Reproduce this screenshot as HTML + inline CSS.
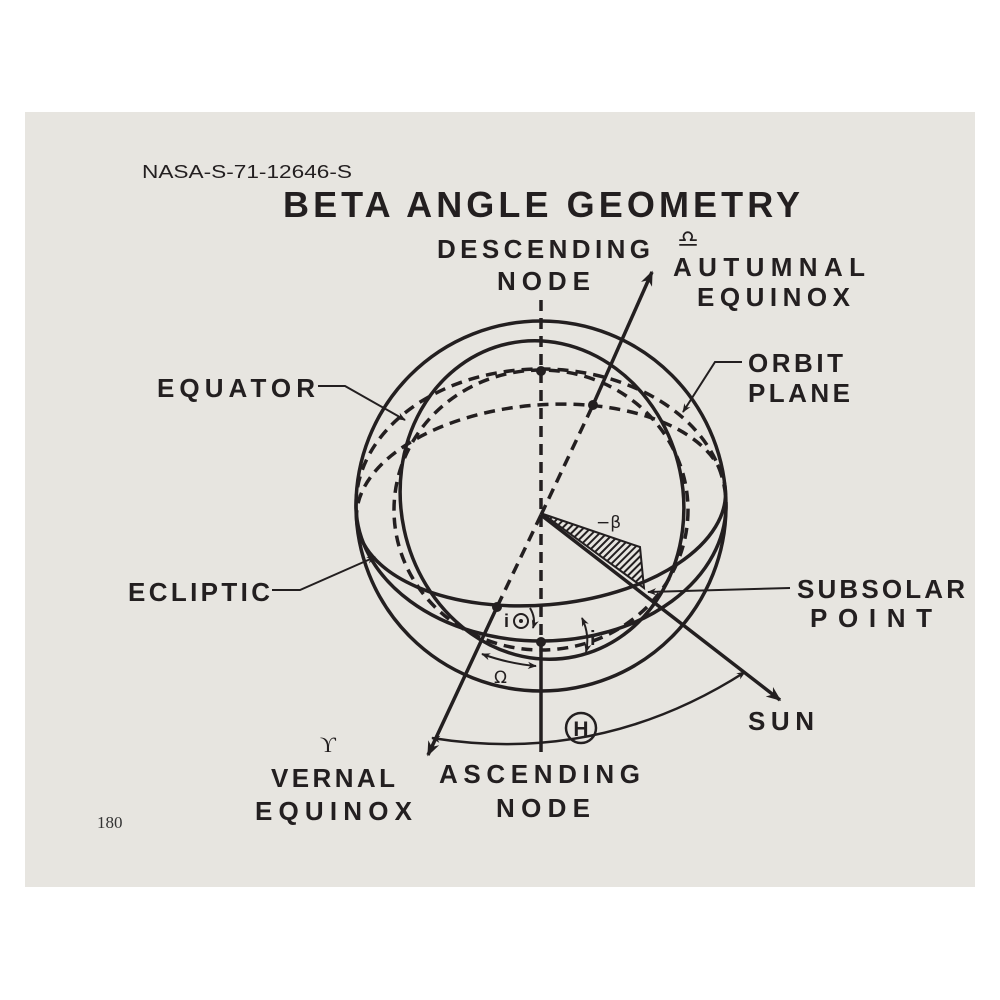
<!DOCTYPE html>
<html><head><meta charset="utf-8"><style>
html,body{margin:0;padding:0;background:#fff;}
svg{display:block}
.l{font-family:"Liberation Sans","DejaVu Sans",sans-serif;font-weight:bold;fill:#231f20;}
</style></head><body>
<svg width="1000" height="1000" viewBox="0 0 1000 1000" xmlns="http://www.w3.org/2000/svg">
<defs>
<marker id="ar" viewBox="0 0 10 10" refX="9" refY="5" markerWidth="9" markerHeight="9" orient="auto-start-reverse" markerUnits="userSpaceOnUse"><path d="M0,1 L10,5 L0,9 L3,5 z" fill="#231f20"/></marker>
<marker id="sa" viewBox="0 0 10 10" refX="9" refY="5" markerWidth="15" markerHeight="15" orient="auto-start-reverse" markerUnits="userSpaceOnUse"><path d="M0,1 L10,5 L0,9 L3,5 z" fill="#231f20"/></marker>
<pattern id="hatch" width="5" height="5" patternUnits="userSpaceOnUse" patternTransform="rotate(45)"><rect width="2" height="5" fill="#231f20"/></pattern>
</defs>
<rect x="25" y="112" width="950" height="775" fill="#e7e5e0"/>
<text x="142" y="178" class="l" style="font-weight:normal" font-size="18" textLength="210" lengthAdjust="spacingAndGlyphs">NASA-S-71-12646-S</text>
<text x="283" y="217" class="l" font-size="36" textLength="517" lengthAdjust="spacing">BETA ANGLE GEOMETRY</text>

<g fill="none" stroke="#231f20" stroke-width="3.5">
<circle cx="541" cy="506" r="185"/>
<path d="M356,505 A185,136 0 0 0 726,505"/>
<path d="M356,505 A185,136 0 0 1 726,505" stroke-dasharray="11,7"/>
<g transform="rotate(-5 541 505)">
<path d="M356,505 A185,100 0 0 0 726,505"/>
<path d="M356,505 A185,100 0 0 1 726,505" stroke-dasharray="11,7"/>
</g>
<ellipse cx="542" cy="500" rx="141" ry="160" transform="rotate(-12 542 500)"/>
<ellipse cx="541" cy="510" rx="147" ry="140" stroke-dasharray="11,7"/>
<line x1="541" y1="300" x2="541" y2="642" stroke-dasharray="11,7"/>
<line x1="541" y1="642" x2="541" y2="752"/>
<line x1="541" y1="515" x2="593" y2="405" stroke-dasharray="11,7"/>
<line x1="593" y1="405" x2="652" y2="272" marker-end="url(#sa)"/>
<line x1="541" y1="515" x2="497" y2="607" stroke-dasharray="11,7"/>
<line x1="497" y1="607" x2="428" y2="755" marker-end="url(#sa)"/>
<line x1="541" y1="515" x2="780" y2="700" marker-end="url(#sa)"/>
<path d="M432,738 Q600,765 745,672" stroke-width="2.5" marker-start="url(#ar)" marker-end="url(#ar)"/>
<path d="M482,654 Q510,664 536,666" stroke-width="2" marker-start="url(#ar)" marker-end="url(#ar)"/>
<path d="M582,618 Q590,635 586,652" stroke-width="2" marker-start="url(#ar)" marker-end="url(#ar)"/>
<path d="M530,608 Q536,618 533,628" stroke-width="2" marker-end="url(#ar)"/>
<path d="M318,386 L345,386 L405,420" stroke-width="2" marker-end="url(#ar)"/>
<path d="M272,590 L300,590 L375,557" stroke-width="2" marker-end="url(#ar)"/>
<path d="M742,362 L715,362 L683,412" stroke-width="2" marker-end="url(#ar)"/>
<path d="M790,588 L648,592" stroke-width="2" marker-end="url(#ar)"/>
</g>
<polygon points="543,514 640,547 644,588" fill="url(#hatch)" stroke="#231f20" stroke-width="2"/>
<g fill="#231f20">
<circle cx="541" cy="371" r="5"/>
<circle cx="593" cy="405" r="5"/>
<circle cx="497" cy="607" r="5"/>
<circle cx="541" cy="642" r="5"/>
</g>
<text x="596" y="528" class="l" style="font-weight:normal;font-family:'DejaVu Sans',sans-serif" font-size="17">−β</text>
<text x="504" y="627" class="l" font-size="18">i</text>
<circle cx="521" cy="621" r="7" fill="none" stroke="#231f20" stroke-width="2"/><circle cx="521" cy="621" r="2" fill="#231f20"/>
<text x="590" y="645" class="l" font-size="20">i</text>
<text x="494" y="683" class="l" style="font-weight:normal;font-family:'DejaVu Sans',sans-serif" font-size="17">Ω</text>
<circle cx="581" cy="728" r="15" fill="none" stroke="#231f20" stroke-width="2.5"/>
<text x="581" y="736" class="l" font-size="21" text-anchor="middle">H</text>

<g font-size="26">
<text x="437" y="258" class="l" textLength="213" lengthAdjust="spacing">DESCENDING</text>
<text x="497" y="290" class="l" textLength="93" lengthAdjust="spacing">NODE</text>
<text x="673" y="276" class="l" textLength="192" lengthAdjust="spacing">AUTUMNAL</text>
<text x="697" y="306" class="l" textLength="153" lengthAdjust="spacing">EQUINOX</text>
<text x="748" y="372" class="l" textLength="95" lengthAdjust="spacing">ORBIT</text>
<text x="748" y="402" class="l" textLength="102" lengthAdjust="spacing">PLANE</text>
<text x="157" y="397" class="l" textLength="158" lengthAdjust="spacing">EQUATOR</text>
<text x="128" y="601" class="l" textLength="142" lengthAdjust="spacing">ECLIPTIC</text>
<text x="797" y="598" class="l" textLength="168" lengthAdjust="spacing">SUBSOLAR</text>
<text x="810" y="627" class="l" textLength="122" lengthAdjust="spacing">POINT</text>
<text x="748" y="730" class="l" textLength="66" lengthAdjust="spacing">SUN</text>
<text x="271" y="787" class="l" textLength="124" lengthAdjust="spacing">VERNAL</text>
<text x="255" y="820" class="l" textLength="157" lengthAdjust="spacing">EQUINOX</text>
<text x="439" y="783" class="l" textLength="201" lengthAdjust="spacing">ASCENDING</text>
<text x="496" y="817" class="l" textLength="94" lengthAdjust="spacing">NODE</text>
</g>
<text x="688" y="247" class="l" style="font-family:'DejaVu Sans',sans-serif" font-size="24" text-anchor="middle">♎</text>
<text x="328" y="752" class="l" style="font-weight:normal;font-family:'Liberation Serif',serif" font-size="22" text-anchor="middle">ϒ</text>
<text x="97" y="828" font-family="Liberation Serif,serif" font-size="17" fill="#333">180</text>
</svg>
</body></html>
